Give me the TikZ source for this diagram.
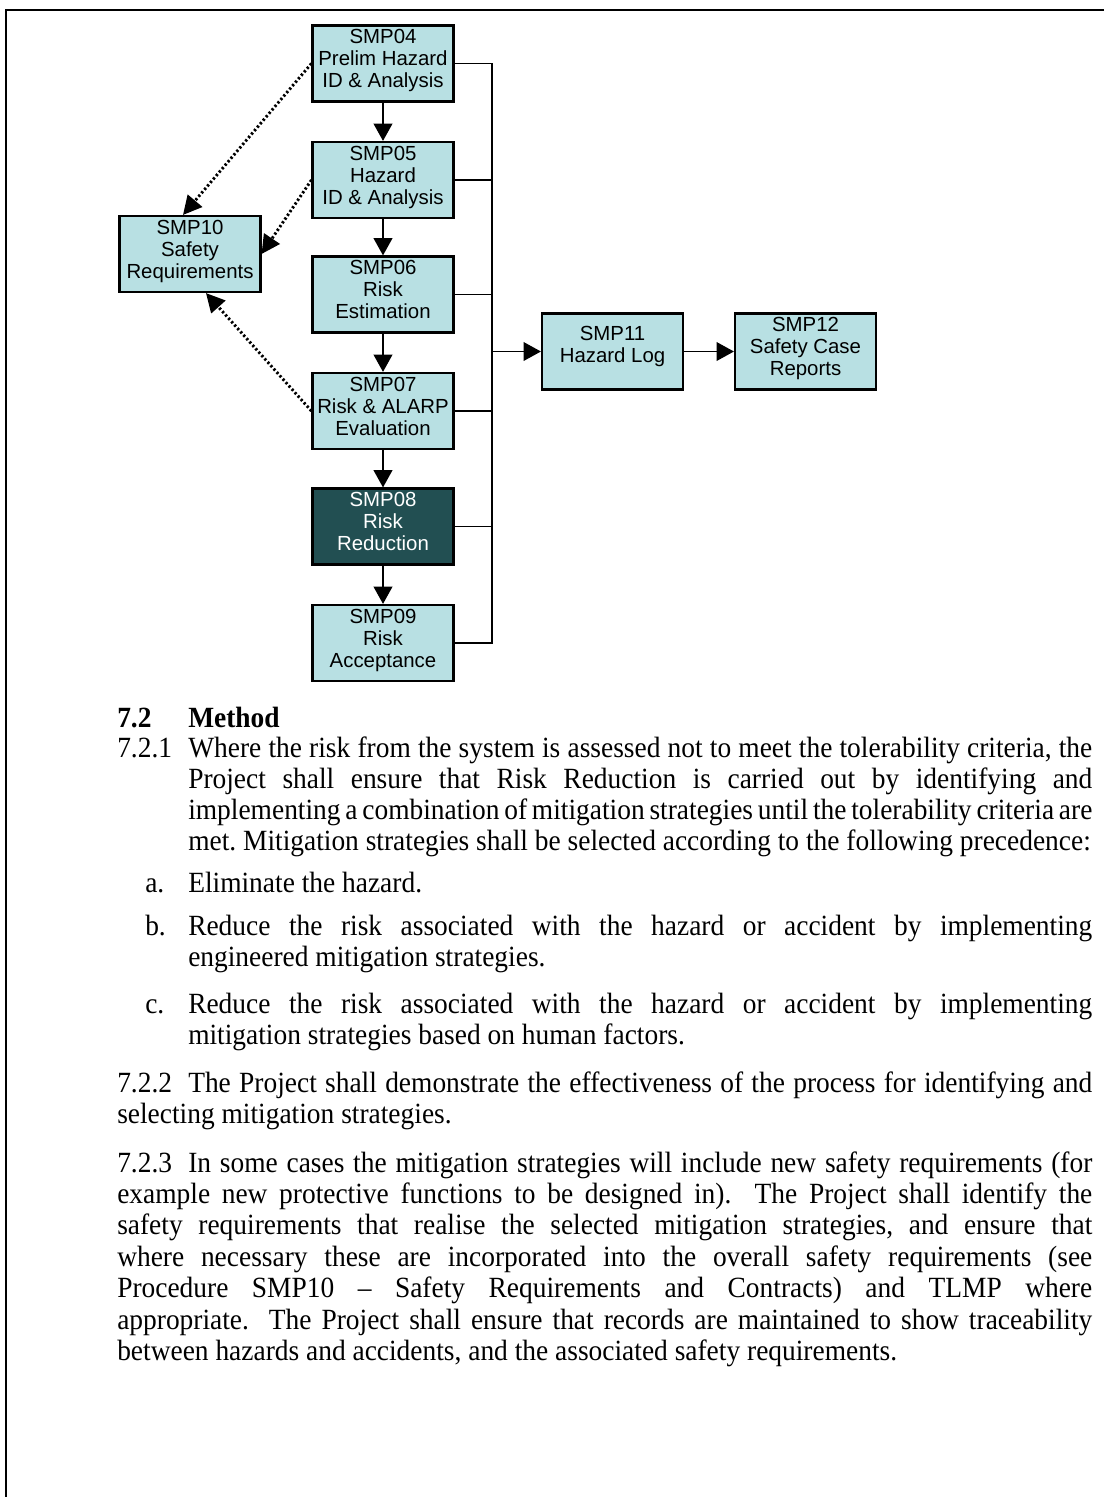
\documentclass[tikz,border=0pt]{standalone}
\usepackage{fontspec}
\setmainfont{Liberation Serif}[FakeStretch=0.935]
\setsansfont{Liberation Sans}
\usetikzlibrary{arrows.meta,calc}
\definecolor{boxfill}{HTML}{B8E0E3}
\definecolor{darkfill}{HTML}{224F52}
\newcommand{\bodyfont}{\fontsize{22}{23}\selectfont\frenchspacing}
\newcommand{\jw}[2]{\makebox[#1][s]{#2}}
\begin{document}
\begin{tikzpicture}[x=0.75pt,y=-0.75pt,
  smpbox/.style={draw=black, line width=1.6pt, fill=boxfill, minimum width=105.75pt,
    minimum height=57pt, inner sep=0pt, align=center,
    font=\sffamily\fontsize{15.3}{16.5}\selectfont, text depth=7pt},
  darkbox/.style={smpbox, fill=darkfill, text=white},
  flow/.style={line width=1.5pt, -{Triangle[length=13pt,width=14pt]}},
  dotarrow/.style={line width=2.2pt, dash pattern=on 1.7pt off 1.7pt,
    -{Triangle[length=14pt,width=14pt]}},
  bus/.style={line width=1.1pt},
  frame/.style={line width=1.7pt},
  txt/.style={anchor=base west, inner sep=0pt, font=\bodyfont},
  head/.style={anchor=base west, inner sep=0pt, font=\bodyfont\bfseries}]
\useasboundingbox (0,0) rectangle (1104,1497);
\draw[frame] (1104,10) -- (6,10) -- (6,1497);

% boxes
\node[smpbox] (s04) at (383,63.5) {SMP04\\Prelim Hazard\\ID \& Analysis};
\node[smpbox] (s05) at (383,180) {SMP05\\Hazard\\ID \& Analysis};
\node[smpbox] (s06) at (383,294.5) {SMP06\\Risk\\Estimation};
\node[smpbox] (s07) at (383,411) {SMP07\\Risk \& ALARP\\Evaluation};
\node[darkbox] (s08) at (383,526.5) {SMP08\\Risk\\Reduction};
\node[smpbox] (s09) at (383,643) {SMP09\\Risk\\Acceptance};
\node[smpbox] (s10) at (190,254) {SMP10\\Safety\\Requirements};
\node[smpbox, text depth=11pt] (s11) at (612.5,351.5) {SMP11\\Hazard Log};
\node[smpbox] (s12) at (805.5,351.5) {SMP12\\Safety Case\\Reports};

% vertical flow
\draw[flow] (s04) -- (s05);
\draw[flow] (s05) -- (s06);
\draw[flow] (s06) -- (s07);
\draw[flow] (s07) -- (s08);
\draw[flow] (s08) -- (s09);

% bus
\coordinate (busx) at (492,0);
\draw[bus] (s04.east) -- (s04.east -| busx) -- (s09.east -| busx) -- (s09.east);
\draw[bus] (s05.east) -- (s05.east -| busx);
\draw[bus] (s06.east) -- (s06.east -| busx);
\draw[bus] (s07.east) -- (s07.east -| busx);
\draw[bus] (s08.east) -- (s08.east -| busx);
\draw[flow, line width=1.1pt] (s11.west -| busx) -- (s11.west);
\draw[flow, line width=1.1pt] (s11) -- (s12);

% dotted
\draw[dotarrow] (s04.west) -- ([xshift=-5.25pt]s10.north);
\draw[dotarrow] (s05.west) -- (s10.east);
\draw[dotarrow] (s07.west) -- ([xshift=12pt]s10.south);

% text
\node[head] (h1) at (117,727) {7.2};
\node[head] (h2) at (188,727) {Method};

\node[txt] (n1) at (117,757) {7.2.1};
\node[txt] (p1a) at (188,757) {\jw{678pt}{Where the risk from the system is assessed not to meet the tolerability criteria, the}};
\node[txt] (p1b) at (188,788) {\jw{678pt}{Project shall ensure that Risk Reduction is carried out by identifying and}};
\node[txt] (p1c) at (188,819) {\jw{678pt}{implementing a combination of mitigation strategies until the tolerability criteria are}};
\node[txt] (p1d) at (188,850) {met. Mitigation strategies shall be selected according to the following precedence:};

\node[txt] (la) at (145,892) {a.};
\node[txt] (pa) at (188,892) {Eliminate the hazard.};
\node[txt] (lb) at (145,935) {b.};
\node[txt] (pb1) at (188,935) {\jw{678pt}{Reduce the risk associated with the hazard or accident by implementing}};
\node[txt] (pb2) at (188,966) {engineered mitigation strategies.};
\node[txt] (lc) at (145,1013) {c.};
\node[txt] (pc1) at (188,1013) {\jw{678pt}{Reduce the risk associated with the hazard or accident by implementing}};
\node[txt] (pc2) at (188,1044) {mitigation strategies based on human factors.};

\node[txt] (n2) at (117,1092) {7.2.2};
\node[txt] (p2a) at (188,1092) {\jw{678pt}{The Project shall demonstrate the effectiveness of the process for identifying and}};
\node[txt] (p2b) at (117,1123) {selecting mitigation strategies.};

\node[txt] (n3) at (117,1172) {7.2.3};
\node[txt] (p3a) at (188,1172) {\jw{678pt}{In some cases the mitigation strategies will include new safety requirements (for}};
\node[txt] (p3b) at (117,1203) {\jw{731.25pt}{example new protective functions to be designed in).\ \ The Project shall identify the}};
\node[txt] (p3c) at (117,1234) {\jw{731.25pt}{safety requirements that realise the selected mitigation strategies, and ensure that}};
\node[txt] (p3d) at (117,1266) {\jw{731.25pt}{where necessary these are incorporated into the overall safety requirements (see}};
\node[txt] (p3e) at (117,1297) {\jw{731.25pt}{Procedure SMP10 \textendash{} Safety Requirements and Contracts) and TLMP where}};
\node[txt] (p3f) at (117,1329) {\jw{731.25pt}{appropriate.\ \ The Project shall ensure that records are maintained to show traceability}};
\node[txt] (p3g) at (117,1360) {between hazards and accidents, and the associated safety requirements.};
\end{tikzpicture}
\end{document}
